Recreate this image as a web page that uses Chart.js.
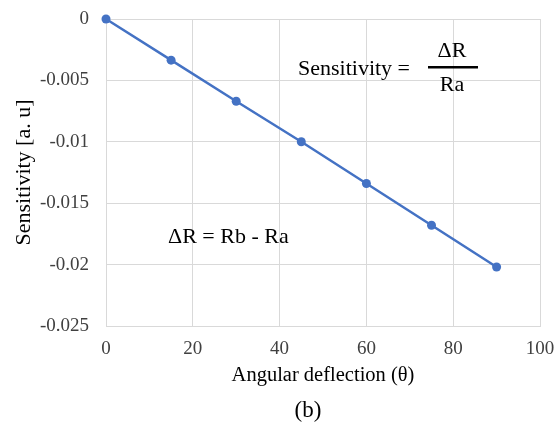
<!DOCTYPE html>
<html>
<head>
<meta charset="utf-8">
<script src="https://cdn.jsdelivr.net/npm/chart.js@4.4.0/dist/chart.umd.min.js"></script>
<style>
  html, body { margin: 0; padding: 0; background: #fff; }
  #wrap { width: 557px; height: 424px; }
</style>
</head>
<body>
<div id="wrap"><canvas id="chart"></canvas></div>
<script>
// values
const angles = [0, 15, 30, 45, 60, 75, 90];
const sensitivity = [0, -0.00335, -0.0067, -0.01, -0.0134, -0.0168, -0.0202];
const xTicks = [0, 20, 40, 60, 80, 100];
const yTicks = [0, -0.005, -0.01, -0.015, -0.02, -0.025];

const serif = "'Liberation Serif', 'Times New Roman', serif";

// formula text and the "(b)" caption
const notes = {
  id: "notes",
  afterDraw(chart) {
    const ctx = chart.ctx;
    ctx.save();
    ctx.fillStyle = "#000";
    ctx.font = "22px " + serif;
    ctx.textBaseline = "middle";
    ctx.textAlign = "left";
    ctx.fillText("Sensitivity =", 298, 69);
    ctx.textAlign = "center";
    ctx.fillText("\u0394R", 452, 51);
    ctx.fillText("Ra", 452, 85);
    ctx.fillRect(428, 66, 50, 2.5);
    ctx.textAlign = "left";
    ctx.fillText("\u0394R = Rb - Ra", 168, 237);
    ctx.font = "23px " + serif;
    ctx.textAlign = "center";
    ctx.fillText("(b)", 308, 411);
    ctx.restore();
  }
};

new Chart(document.getElementById("chart"), {
  type: "line",
  data: {
    datasets: [{
      data: angles.map((a, i) => ({ x: a, y: sensitivity[i] })),
      borderColor: "#4472C4",
      backgroundColor: "#4472C4",
      borderWidth: 2.5,
      pointRadius: 4.5,
      pointBorderWidth: 0,
      tension: 0,
      clip: false
    }]
  },
  options: {
    responsive: true,
    maintainAspectRatio: false,
    animation: false,
    layout: { padding: { top: 19, right: 17, left: 0, bottom: 0 } },
    plugins: { legend: { display: false }, tooltip: { enabled: false } },
    scales: {
      x: {
        type: "linear",
        min: 0,
        max: 100,
        afterBuildTicks: (s) => { s.ticks = xTicks.map((v) => ({ value: v })); },
        afterFit: (s) => { s.height = 98; s.paddingLeft = 0; s.paddingRight = 0; },
        grid: { color: "#d9d9d9", drawTicks: false },
        border: { color: "#d9d9d9" },
        ticks: { color: "#404040", padding: 12, font: { family: serif, size: 19 } },
        title: {
          display: true,
          text: "Angular deflection (\u03b8)",
          color: "#000",
          font: { family: serif, size: 20.5 },
          padding: { top: 0, bottom: 36 }
        }
      },
      y: {
        min: -0.025,
        max: 0,
        afterBuildTicks: (s) => { s.ticks = yTicks.map((v) => ({ value: v })); },
        afterFit: (s) => { s.width = 106; s.paddingTop = 0; s.paddingBottom = 0; },
        grid: { color: "#d9d9d9", drawTicks: false },
        border: { display: false },
        ticks: {
          color: "#404040",
          padding: 17,
          font: { family: serif, size: 19 },
          callback: (v) => String(v)
        },
        title: {
          display: true,
          text: "Sensitivity [a. u]",
          color: "#000",
          font: { family: serif, size: 22 },
          padding: { top: 11, bottom: 0 }
        }
      }
    }
  },
  plugins: [notes]
});
</script>
</body>
</html>
